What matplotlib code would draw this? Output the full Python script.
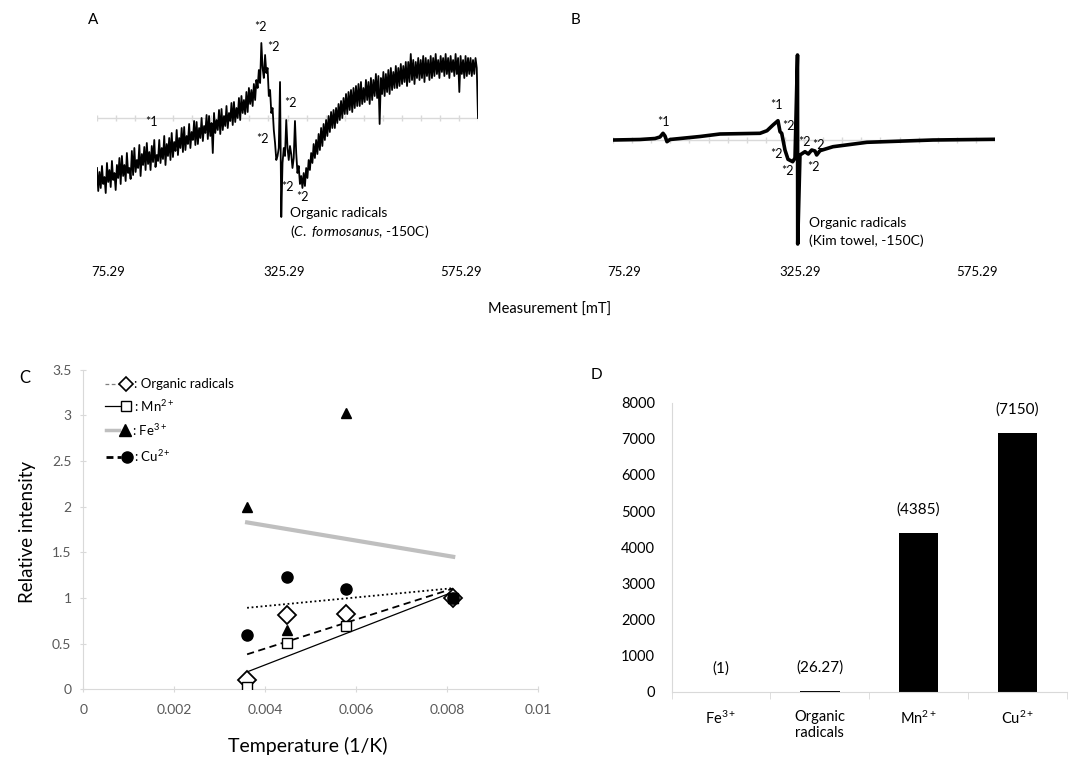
import numpy as np
import matplotlib

matplotlib.use("Agg")
import matplotlib.pyplot as plt
from matplotlib.lines import Line2D

W, H = 1072, 758

plt.rcParams["font.family"] = ["Lato", "DejaVu Sans"]
plt.rcParams["mathtext.fontset"] = "custom"
plt.rcParams["mathtext.rm"] = "Lato"
plt.rcParams["mathtext.it"] = "Lato:italic"
plt.rcParams["mathtext.bf"] = "Lato:bold"

# ---------------------------------------------------------------------------
# Data
# ---------------------------------------------------------------------------
FIELD_RANGE = (60, 600)                 # mT, sweep of both spectra
FIELD_TICKS = [75.29, 325.29, 575.29]

# A: termite (C. formosanus) spectrum, evenly sampled over FIELD_RANGE
SPEC_A = [
    -50, -73, -54, -70, -48, -66, -59, -75, -45, -64,
    -52, -69, -43, -62, -55, -72, -47, -60, -40, -66,
    -38, -58, -47, -63, -35, -55, -50, -61, -33, -57,
    -30, -54, -42, -50, -27, -58, -36, -47, -29, -52,
    -25, -46, -34, -52, -28, -44, -22, -49, -37, -43,
    -22, -45, -30, -41, -18, -47, -26, -38, -20, -42,
    -15, -39, -24, -33, -12, -37, -20, -30, -10, -34,
    -9, -32, -18, -26, -6, -30, -14, -22, -3, -27,
    -4, -26, -10, -20, 0, -23, -8, -15, 3, -21,
    2, -18, -5, -35, 5, -15, -2, -12, 8, -16,
    9, -12, 2, -8, 12, -10, 5, -3, 15, -7,
    16, -4, 10, 0, 20, -2, 22, 5, 18, 4,
    26, 6, 30, 14, 28, 12, 34, 18, 38, 30,
    # central signal
    48, 35, 75, 50, 40, 63, 45, 50, 22, 28,
    5, 10, -12, -25, -42, -38, -30, 36, -99, -45,
    -30, -38, -2, -30, -42, -28, -36, -50, -40, -3,
    -35, -55, -48, -66, -58, -70, -55, -68, -50, -60,
    -42, -52, -35, -45, -26, -40, -22, -36, -16, -32,
    # high-field side
    -10, -28, -6, -22, -2, -18, 2, -14, 6, -10,
    8, -10, 10, -5, 14, -2, 17, 0, 20, 4,
    24, 4, 26, 8, 28, 6, 30, 10, 32, 12,
    34, 12, 36, 14, 30, 16, 38, 18, 36, 14,
    40, 18, 38, 22, 44, 20, 42, -6, 40, 24,
    46, 22, 44, 26, 48, 24, 50, 28, 46, 30,
    52, 30, 50, 32, 54, 34, 52, 36, 56, 32,
    56, 36, 64, 38, 58, 34, 56, 40, 60, 38,
    58, 40, 62, 36, 60, 42, 58, 38, 62, 40,
    60, 42, 64, 44, 58, 40, 62, 46, 60, 42,
    64, 44, 60, 40, 62, 46, 58, 42, 64, 44,
    60, 26, 62, 44, 58, 40, 62, 42, 60, 44,
    60, 42, 58, 44, 60, 50, 0,
]

# B: Kim towel spectrum
SPEC_B_FIELD = [60, 98.2, 119.4, 126.4, 130.7, 133.5, 136.3, 140.6, 154.7, 183,
                211.3, 267.8, 277.7, 286.2, 293.2, 296.1, 298.5, 303.1, 307.4, 314,
                317.3, 320.8, 321.1, 324.3, 331.4, 336.1, 340.9, 345.5, 347.9, 352.6,
                371, 419, 512.4, 600]
SPEC_B = [0, 0.5, 1.5, 3, 6.7, 4, -1.7, 0.5, 1.5, 3.5,
          6, 6.7, 9.3, 15, 19.3, 8.3, 6.7, -10, -19.3, -21.7,
          -18, 85, -104, -15, -11.7, -14, -10, -11, -15, -10.7,
          -6.7, -2.3, 0, 0.7]

# C: relative intensity vs 1/T
INV_T = [0.0036, 0.00448, 0.00578, 0.00813]
ORGANIC = [0.10, 0.81, 0.83, 1.0]
MN = [0.03, 0.51, 0.69, 1.0]
FE = [2.0, 0.65, 3.03, 1.0]
CU = [0.60, 1.23, 1.10, 1.0]

# D: intensity ratio
SPECIES = ["Fe$^{3+}$", "Organic\nradicals", "Mn$^{2+}$", "Cu$^{2+}$"]
RATIO = [1, 26.27, 4385, 7150]
RATIO_LABELS = ["(1)", "(26.27)", "(4385)", "(7150)"]

AXIS_GRAY = "#d9d9d9"
TICK_GRAY = "#595959"


def box(left, top, right, bottom):
    """Axes rectangle from pixel edges."""
    return [left / W, 1 - bottom / H, (right - left) / W, (bottom - top) / H]


def ftext(px, py, s, **kw):
    kw.setdefault("ha", "center")
    kw.setdefault("va", "center")
    fig.text(px / W, 1 - py / H, s, **kw)


def fline(xs, ys, **kw):
    fig.add_artist(Line2D([x / W for x in xs], [1 - y / H for y in ys], **kw))


fig = plt.figure(figsize=(W / 100, H / 100), dpi=100)


# ---------------------------------------------------------------------------
# A / B spectra
# ---------------------------------------------------------------------------
def spectrum_axes(rect, ylim):
    ax = fig.add_axes(rect)
    ax.set_xlim(*FIELD_RANGE)
    ax.set_ylim(*ylim)
    ax.axhline(0, color=AXIS_GRAY, lw=1, zorder=0)
    ax.vlines(np.linspace(*FIELD_RANGE, 21), -3, 3, color=AXIS_GRAY, lw=1, zorder=0)
    ax.set_xticks(FIELD_TICKS, labels=[f"{v:.2f}" for v in FIELD_TICKS])
    ax.tick_params(axis="x", length=0, pad=3, labelsize=9.5)
    ax.set_yticks([])
    for sp in ax.spines.values():
        sp.set_visible(False)
    ax.patch.set_alpha(0)
    return ax


axA = spectrum_axes(box(97, 20, 478, 262), (-144, 98))
axA.plot(np.linspace(*FIELD_RANGE, len(SPEC_A)), SPEC_A, color="black", lw=1.3)

axB = spectrum_axes(box(613, 20, 995, 262), (-122, 120))
axB.plot(SPEC_B_FIELD, SPEC_B, color="black", lw=2.6, solid_joinstyle="round")

ftext(93, 20, "A", fontsize=11)
for s, px, py in [("*2", 260, 27), ("*2", 273, 47), ("*1", 151, 122), ("*2", 290, 103),
                  ("*2", 262, 139), ("*2", 287, 187), ("*2", 302, 197)]:
    ftext(px, py, s, fontsize=9)
ftext(290, 213, "Organic radicals", ha="left", fontsize=10)
ftext(290, 231, "(" + r"$\mathit{C.\ formosanus}$" + ", -150C)", ha="left", fontsize=10)

ftext(576, 20, "B", fontsize=11)
for s, px, py in [("*1", 663, 122), ("*1", 776, 105), ("*2", 788, 126), ("*2", 776, 154),
                  ("*2", 787, 171), ("*2", 804, 142), ("*2", 818, 145), ("*2", 813, 167)]:
    ftext(px, py, s, fontsize=9)
ftext(809, 223, "Organic radicals", ha="left", fontsize=10)
ftext(809, 241, "(Kim towel, -150C)", ha="left", fontsize=10)

ftext(550, 310, "Measurement [mT]", fontsize=10.5)

# ---------------------------------------------------------------------------
# C: temperature dependence
# ---------------------------------------------------------------------------
axC = fig.add_axes(box(83.3, 369.7, 538.3, 689.3))
ends = np.array([INV_T[0], INV_T[-1]])
trend_styles = [
    (FE, dict(color="#bfbfbf", lw=3)),
    (CU, dict(color="black", lw=1.3, ls=(0, (1, 1.5)))),
    (ORGANIC, dict(color="black", lw=1.3, ls=(0, (4, 2.5)))),
    (MN, dict(color="black", lw=0.9)),
]
for series, style in trend_styles:
    slope, icpt = np.polyfit(INV_T, series, 1)
    axC.plot(ends, slope * ends + icpt, zorder=2, **style)

axC.plot(INV_T, ORGANIC, ls="none", marker="D", ms=9.5, mfc="white", mec="black", mew=1.3, zorder=3)
axC.plot(INV_T, MN, ls="none", marker="s", ms=7.5, mfc="white", mec="black", mew=1.0, zorder=4)
axC.plot(INV_T, CU, ls="none", marker="o", ms=8, color="black", zorder=5)
axC.plot(INV_T, FE, ls="none", marker="^", ms=6.5, color="black", zorder=6)

axC.set_xlim(0, 0.01)
axC.set_ylim(0, 3.5)
xt = [0, 0.002, 0.004, 0.006, 0.008, 0.01]
axC.set_xticks(xt, labels=["0", "0.002", "0.004", "0.006", "0.008", "0.01"])
yt = [0, 0.5, 1, 1.5, 2, 2.5, 3, 3.5]
axC.set_yticks(yt, labels=["0", "0.5", "1", "1.5", "2", "2.5", "3", "3.5"])
axC.tick_params(axis="both", direction="inout", length=5, color=AXIS_GRAY,
                labelcolor=TICK_GRAY, labelsize=10)
axC.tick_params(axis="x", pad=8)
axC.tick_params(axis="y", pad=6)
for side in ("top", "right"):
    axC.spines[side].set_visible(False)
for side in ("left", "bottom"):
    axC.spines[side].set_color(AXIS_GRAY)
axC.patch.set_alpha(0)

ftext(28, 532, "Relative intensity", rotation=90, fontsize=13.5)
ftext(308, 746, "Temperature (1/K)", fontsize=14)
ftext(25, 378, "C", fontsize=12)

# legend, drawn by hand (line then marker)
fline([105, 121], [384, 384], color="#7f7f7f", lw=0.9, ls=(0, (3, 2)))
fline([126], [384], ls="none", marker="D", ms=7, mfc="white", mec="black", mew=1.2)
ftext(134, 384, ": Organic radicals", ha="left", fontsize=9.5)
fline([105, 120], [406, 406], color="black", lw=0.9)
fline([125.5], [406], ls="none", marker="s", ms=7, mfc="white", mec="black", mew=1.0)
ftext(134, 406, ": Mn$^{2+}$", ha="left", fontsize=9.5)
fline([106, 119], [430, 430], color="#bfbfbf", lw=2.5)
fline([124.5], [430], ls="none", marker="^", ms=8, color="black")
ftext(132, 430, ": Fe$^{3+}$", ha="left", fontsize=9.5)
fline([106, 120.5], [456.5, 456.5], color="black", lw=2, ls=(0, (2.5, 1.5)))
fline([126.5], [456.5], ls="none", marker="o", ms=8, color="black")
ftext(134, 456.5, ": Cu$^{2+}$", ha="left", fontsize=9.5)

# ---------------------------------------------------------------------------
# D: intensity ratio
# ---------------------------------------------------------------------------
axD = fig.add_axes(box(671.7, 402.7, 1066.7, 691.7))
pos = np.arange(len(SPECIES))
axD.bar(pos, RATIO, width=0.4, color="black")
for p, v, lab in zip(pos, RATIO, RATIO_LABELS):
    axD.text(p, v + 650, lab, ha="center", va="center", fontsize=11)
axD.set_xlim(-0.5, len(SPECIES) - 0.5)
axD.set_ylim(0, 8000)
axD.set_yticks(np.arange(0, 8001, 1000))
axD.set_xticks(pos, labels=SPECIES)
axD.set_xticks(np.arange(-0.5, len(SPECIES)), minor=True)
axD.tick_params(axis="x", which="major", length=0, pad=13, labelsize=10.5)
axD.tick_params(axis="x", which="minor", length=5, color=AXIS_GRAY)
axD.tick_params(axis="y", length=0, pad=12, labelsize=10.5)
for side in ("top", "right"):
    axD.spines[side].set_visible(False)
for side in ("left", "bottom"):
    axD.spines[side].set_color(AXIS_GRAY)
axD.patch.set_alpha(0)

ftext(596, 375, "D", fontsize=11)

fig.savefig("out.png", dpi=100)
